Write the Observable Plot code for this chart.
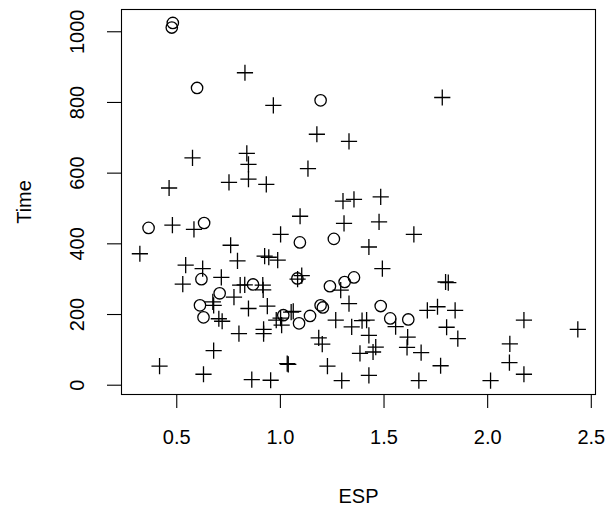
<!DOCTYPE html>
<html>
<head>
<meta charset="utf-8">
<script src="https://cdn.jsdelivr.net/npm/d3@7"></script>
<script src="https://cdn.jsdelivr.net/npm/@observablehq/plot@0.6"></script>
<style>
  html, body { margin: 0; padding: 0; background: #fff; }
  #chart svg { display: block; }
</style>
</head>
<body>
<div id="chart"></div>
<script>
// Group "o" (circles)
const circleESP = [0.481,0.476,0.598,1.194,0.364,0.632,1.094,1.258,0.619,0.707,0.612,0.629,0.868,1.082,1.014,1.090,1.143,1.194,1.205,1.239,1.310,1.355,1.484,1.530,1.617];
const circleTime = [1025,1012,841,806,445,459,404,414,300,260,226,192,285,302,198,175,196,226,220,280,292,305,224,189,186];

// Group "+" (pluses)
const plusESP = [0.829,0.966,1.176,1.331,1.781,0.576,0.838,0.846,0.752,0.846,
  0.932,0.463,1.133,1.302,1.355,1.484,1.095,1.307,1.476,0.479,
  0.583,1.001,1.644,1.427,1.492,0.322,0.760,0.793,0.543,0.924,
  0.944,0.987,0.625,0.529,0.715,0.806,0.828,0.915,0.917,0.776,
  0.674,0.678,0.846,0.937,0.703,0.719,0.800,0.919,0.919,0.678,
  0.417,0.629,0.862,0.953,1.033,1.038,0.980,1.001,1.006,1.052,
  1.062,1.083,1.103,1.291,1.331,1.267,1.344,1.394,1.416,1.427,
  1.460,1.447,1.384,1.227,1.296,1.427,1.185,1.202,1.797,1.810,
  1.709,1.758,1.843,1.802,1.856,1.556,1.614,1.611,1.679,1.773,
  1.668,2.014,2.107,2.105,2.175,2.175,2.435];
const plusTime = [884,792,710,690,814,643,656,625,574,583,
  568,558,613,521,526,533,478,458,462,453,
  441,427,427,391,330,372,396,352,340,365,
  362,354,330,286,305,283,284,283,270,249,
  236,226,217,224,188,181,146,158,146,98,
  54,31,16,14,61,59,184,190,170,207,
  209,300,310,269,231,184,165,183,184,141,
  108,94,90,54,13,28,134,116,292,290,
  212,222,212,164,132,166,136,107,92,55,
  13,13,117,64,184,31,158];

const xTicks = [0.5, 1.0, 1.5, 2.0, 2.5];
const yTicks = [0, 200, 400, 600, 800, 1000];

const circles = circleESP.map((x, i) => ({x, y: circleTime[i]}));
const pluses = plusESP.map((x, i) => ({x, y: plusTime[i]}));

const plusSymbol = {
  draw(context, size) {
    const r = Math.sqrt(size / Math.PI);
    context.moveTo(-r, 0); context.lineTo(r, 0);
    context.moveTo(0, -r); context.lineTo(0, r);
  }
};

const FONT = "'Liberation Sans', Arial, Helvetica, sans-serif";
const FS = 20;

const chart = Plot.plot({
  width: 608,
  height: 510,
  marginLeft: 121,
  marginRight: 13,
  marginTop: 9,
  marginBottom: 116,
  style: {fontFamily: FONT, fontSize: FS + "px", background: "#fff", color: "#000"},
  x: {domain: [0.2334, 2.5203], label: null},
  y: {domain: [-26.3, 1063], label: null},
  marks: [
    Plot.frame({stroke: "#000", strokeWidth: 1.1}),
    Plot.axisX({ticks: xTicks, tickFormat: d3.format(".1f"), tickSize: 14, tickPadding: 21,
      strokeWidth: 1.1, fontSize: FS, label: "ESP", labelAnchor: "center", labelArrow: "none", labelOffset: 108}),
    Plot.axisY({ticks: yTicks, tickFormat: d => String(d), tickSize: 14, tickPadding: 24,
      tickRotate: -90, textAnchor: "middle", lineAnchor: "bottom",
      strokeWidth: 1.1, fontSize: FS, label: "Time", labelAnchor: "center", labelArrow: "none", labelOffset: 105}),
    Plot.dot(pluses, {x: "x", y: "y", symbol: plusSymbol, r: 8.1, fill: "none", stroke: "#000", strokeWidth: 1.3}),
    Plot.dot(circles, {x: "x", y: "y", symbol: "circle", r: 5.7, fill: "none", stroke: "#000", strokeWidth: 1.3})
  ]
});
document.getElementById("chart").appendChild(chart);
</script>
</body>
</html>
